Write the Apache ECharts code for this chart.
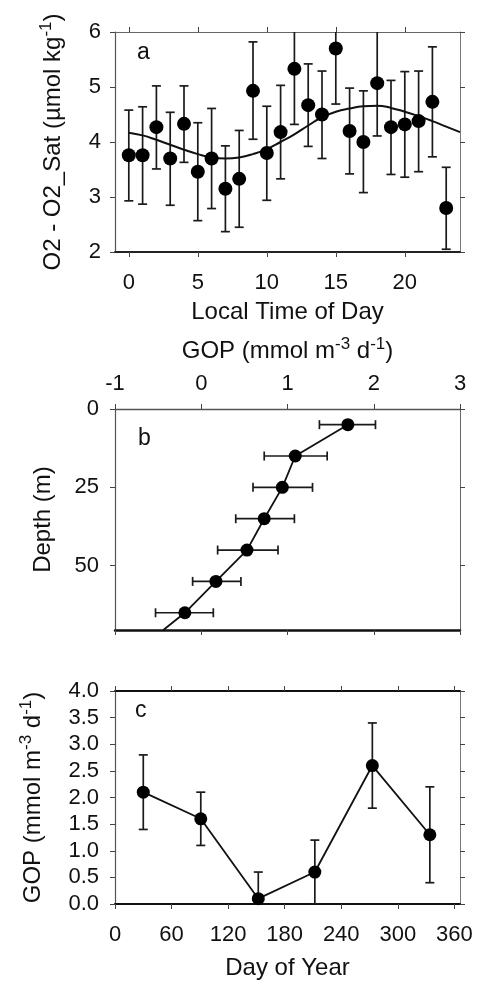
<!DOCTYPE html>
<html><head><meta charset="utf-8">
<script src="https://cdn.jsdelivr.net/npm/echarts@6/dist/echarts.min.js"></script>
<style>html,body{margin:0;padding:0;background:#fff}#c{width:479px;height:981px}</style>
</head><body><div id="c"></div>
<script>
// ---- Panel a: O2 supersaturation vs local time ----
const hours = [0,1,2,3,4,5,6,7,8,9,10,11,12,13,14,15,16,17,18,19,20,21,22,23];
const o2Mean = [3.76,3.76,4.27,3.70,4.33,3.46,3.70,3.15,3.33,4.93,3.80,4.18,5.33,4.67,4.50,5.70,4.20,4.00,5.07,4.27,4.32,4.38,4.73,2.80];
const o2Low  = [2.93,2.87,3.51,2.85,3.63,2.57,2.79,2.37,2.45,4.05,2.94,3.33,4.32,3.92,3.70,4.69,3.42,3.08,4.11,3.41,3.36,3.46,3.73,2.05];
const o2High = [4.58,4.64,5.02,4.54,5.02,4.35,4.61,3.93,4.21,5.82,4.65,5.03,6.34,5.42,5.29,6.71,4.98,4.93,6.03,5.12,5.28,5.29,5.73,3.54];
const fitHours = [0,1,2,3,4,5,6,7,8,9,10,11,12,13,14,15,16,17,18,19,20,21,22,23,24];
const fitValues = [4.17,4.12,4.04,3.95,3.86,3.78,3.72,3.70,3.72,3.78,3.87,4.00,4.14,4.30,4.45,4.55,4.61,4.65,4.66,4.62,4.55,4.47,4.38,4.28,4.18];
const aXTicks = [0,5,10,15,20];
const aYTicks = [2,3,4,5,6];

// ---- Panel b: GOP depth profile ----
const depths = [5,15,25,35,45,55,65];
const gopProfile = [1.70,1.09,0.94,0.73,0.53,0.17,-0.19];
const gopProfLow  = [1.37,0.73,0.60,0.40,0.19,-0.10,-0.53];
const gopProfHigh = [2.02,1.46,1.29,1.08,0.89,0.46,0.14];
const profLineGop = [1.70,1.09,0.94,0.73,0.53,0.17,-0.19,-0.44];
const profLineDepth = [5,15,25,35,45,55,65,70.5];
const bXTicks = [-1,0,1,2,3];
const bYTicks = [0,25,50];

// ---- Panel c: GOP seasonal cycle ----
const days = [30,91,152,212,273,334];
const gopSeason = [2.1,1.6,0.1,0.6,2.6,1.3];
const gopSeasonLow  = [1.4,1.1,-0.4,0.0,1.8,0.4];
const gopSeasonHigh = [2.8,2.1,0.6,1.2,3.4,2.2];
const cXTicks = [0,60,120,180,240,300,360];
const cYTicks = [0,0.5,1,1.5,2,2.5,3,3.5,4];

const FONT = 'Liberation Sans, Arial, sans-serif';
const INK = '#111';

function vErr(params, api){
  const x = api.value(0), lo = api.value(1), hi = api.value(2);
  const a = api.coord([x, lo]), b = api.coord([x, hi]);
  const w = 4.5, st = {stroke:'#1a1a1a', lineWidth:1.7};
  return {type:'group', children:[
    {type:'line', shape:{x1:a[0],y1:a[1],x2:b[0],y2:b[1]}, style:st},
    {type:'line', shape:{x1:b[0]-w,y1:b[1],x2:b[0]+w,y2:b[1]}, style:st},
    {type:'line', shape:{x1:a[0]-w,y1:a[1],x2:a[0]+w,y2:a[1]}, style:st}
  ]};
}
function hErr(params, api){
  const y = api.value(0), lo = api.value(1), hi = api.value(2);
  const a = api.coord([lo, y]), b = api.coord([hi, y]);
  const w = 4.5, st = {stroke:'#1a1a1a', lineWidth:1.7};
  return {type:'group', children:[
    {type:'line', shape:{x1:a[0],y1:a[1],x2:b[0],y2:b[1]}, style:st},
    {type:'line', shape:{x1:a[0],y1:a[1]-w,x2:a[0],y2:a[1]+w}, style:st},
    {type:'line', shape:{x1:b[0],y1:b[1]-w,x2:b[0],y2:b[1]+w}, style:st}
  ]};
}

function axis(o){
  const base = {
    type:'value', splitLine:{show:false},
    axisLine:{show:true, onZero:false, lineStyle:{color:o.lineColor||'#555', width:o.lineWidth||1.2}},
    axisTick:{show:true, length:5, customValues:o.ticks, lineStyle:{color:'#444', width:1}},
    axisLabel:{show:!!o.labels, customValues:o.ticks, fontFamily:FONT, fontSize:22, color:INK, margin:o.margin||10,
      formatter:o.fmt||(v=>String(v))},
    nameTextStyle:{fontFamily:FONT, fontSize:24, color:INK}
  };
  return Object.assign(base, o.extra||{});
}

const sup = {sup:{fontSize:17, fontFamily:FONT, color:INK, verticalAlign:'top', padding:[0,0,14,0]},
             t:{fontSize:24, fontFamily:FONT, color:INK}};

const option = {
  animation:false,
  backgroundColor:'#fff',
  grid:[
    {left:115, top:32, width:345, height:220},
    {left:115, top:409, width:345, height:221},
    {left:115, top:691, width:345, height:219}
  ],
  xAxis:[
    axis({ticks:aXTicks, labels:true, margin:20, lineColor:'#222', lineWidth:1.8,
      extra:{gridIndex:0, min:-1, max:24, position:'bottom', name:'Local Time of Day', nameLocation:'middle', nameGap:48,
        nameTextStyle:{fontFamily:FONT, fontSize:24, color:INK}}}),
    axis({ticks:aXTicks, labels:false, lineColor:'#666', lineWidth:1.2, extra:{gridIndex:0, min:-1, max:24, position:'top'}}),
    axis({ticks:bXTicks, labels:true, margin:14, lineColor:'#555', lineWidth:1.3,
      extra:{gridIndex:1, min:-1, max:3, position:'top', name:'{t|GOP (mmol m}{sup|-3}{t| d}{sup|-1}{t|)}', nameLocation:'middle', nameGap:42,
        nameTextStyle:{fontFamily:FONT, fontSize:24, color:INK, rich:sup}}}),
    axis({ticks:bXTicks, labels:false, lineColor:'#111', lineWidth:2.5, extra:{gridIndex:1, min:-1, max:3, position:'bottom'}}),
    axis({ticks:cXTicks, labels:true, margin:20, lineColor:'#111', lineWidth:2,
      extra:{gridIndex:2, min:0, max:366, position:'bottom', name:'Day of Year', nameLocation:'middle', nameGap:52,
        nameTextStyle:{fontFamily:FONT, fontSize:24, color:INK}}}),
    axis({ticks:cXTicks, labels:false, lineColor:'#111', lineWidth:2, extra:{gridIndex:2, min:0, max:366, position:'top'}})
  ],
  yAxis:[
    axis({ticks:aYTicks, labels:true, margin:14, lineColor:'#555', lineWidth:1.2,
      extra:{gridIndex:0, min:2, max:6, position:'left', name:'{t|O2 - O2_Sat (µmol kg}{sup|-1}{t|)}', nameLocation:'middle', nameGap:46,
        nameTextStyle:{fontFamily:FONT, fontSize:24, color:INK, rich:sup}}}),
    axis({ticks:aYTicks, labels:false, lineColor:'#777', lineWidth:1, extra:{gridIndex:0, min:2, max:6, position:'right'}}),
    axis({ticks:bYTicks, labels:true, margin:16, lineColor:'#555', lineWidth:1.2,
      extra:{gridIndex:1, min:0, max:70.5, inverse:true, position:'left', name:'Depth (m)', nameLocation:'middle', nameGap:60,
        nameTextStyle:{fontFamily:FONT, fontSize:24, color:INK}}}),
    axis({ticks:bYTicks, labels:false, lineColor:'#666', lineWidth:1, extra:{gridIndex:1, min:0, max:70.5, inverse:true, position:'right'}}),
    axis({ticks:cYTicks, labels:true, margin:16, lineColor:'#555', lineWidth:1.2, fmt:v=>v.toFixed(1),
      extra:{gridIndex:2, min:0, max:4, position:'left', name:'{t|GOP (mmol m}{sup|-3}{t| d}{sup|-1}{t|)}', nameLocation:'middle', nameGap:66,
        nameTextStyle:{fontFamily:FONT, fontSize:24, color:INK, rich:sup}}}),
    axis({ticks:cYTicks, labels:false, lineColor:'#777', lineWidth:1, extra:{gridIndex:2, min:0, max:4, position:'right'}})
  ],
  graphic:[
    {type:'text', left:137, top:41, style:{text:'a', fontFamily:FONT, fontSize:23, fill:INK}},
    {type:'text', left:138, top:427, style:{text:'b', fontFamily:FONT, fontSize:23, fill:INK}},
    {type:'text', left:135, top:699, style:{text:'c', fontFamily:FONT, fontSize:23, fill:INK}}
  ],
  series:[
    {type:'custom', xAxisIndex:0, yAxisIndex:0, clip:true, renderItem:vErr,
      data:hours.map((h,i)=>[h,o2Low[i],o2High[i]]), z:2},
    {type:'line', xAxisIndex:0, yAxisIndex:0, smooth:true, symbol:'none',
      lineStyle:{color:'#111', width:2}, data:fitHours.map((h,i)=>[h,fitValues[i]]), z:3},
    {type:'scatter', xAxisIndex:0, yAxisIndex:0, symbolSize:14, itemStyle:{color:'#000', opacity:1},
      data:hours.map((h,i)=>[h,o2Mean[i]]), z:4},

    {type:'custom', xAxisIndex:2, yAxisIndex:2, clip:true, renderItem:hErr,
      encode:{y:0, x:[1,2]},
      data:depths.map((d,i)=>[d,gopProfLow[i],gopProfHigh[i]]), z:2},
    {type:'line', xAxisIndex:2, yAxisIndex:2, symbol:'none', clip:true,
      lineStyle:{color:'#111', width:1.8}, data:profLineGop.map((g,i)=>[g,profLineDepth[i]]), z:3},
    {type:'scatter', xAxisIndex:2, yAxisIndex:2, symbolSize:13, itemStyle:{color:'#000', opacity:1},
      data:depths.map((d,i)=>[gopProfile[i],d]), z:4},

    {type:'custom', xAxisIndex:4, yAxisIndex:4, clip:true, renderItem:vErr,
      data:days.map((d,i)=>[d,gopSeasonLow[i],gopSeasonHigh[i]]), z:2},
    {type:'line', xAxisIndex:4, yAxisIndex:4, symbol:'circle', symbolSize:13,
      itemStyle:{color:'#000', opacity:1}, lineStyle:{color:'#111', width:1.8},
      data:days.map((d,i)=>[d,gopSeason[i]]), z:3}
  ]
};
const chart = echarts.init(document.getElementById('c'), null, {renderer:'canvas'});
chart.setOption(option);
</script></body></html>
